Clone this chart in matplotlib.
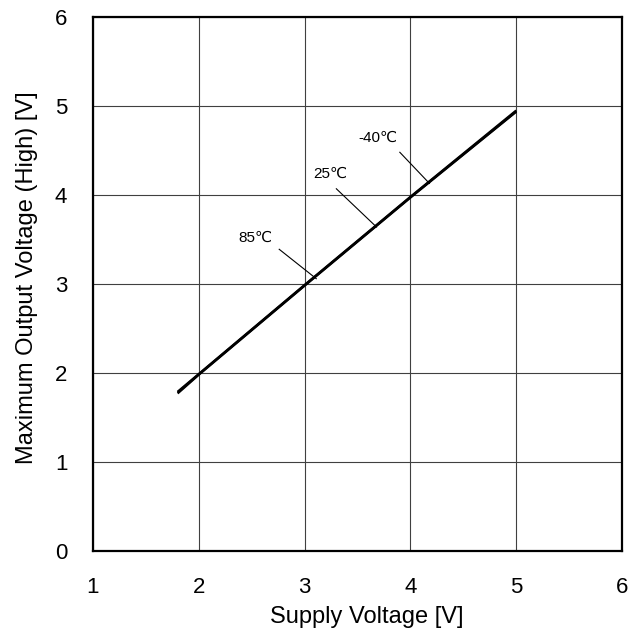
import matplotlib
matplotlib.use("Agg")
import matplotlib.pyplot as plt

plt.rcParams['font.family'] = ['Liberation Sans', 'DejaVu Sans']

vdd = [1.8, 2.0, 3.0, 4.0, 5.0]
vout_m40 = [1.79, 1.99, 2.99, 3.98, 4.95]
vout_25 = [1.78, 1.985, 2.985, 3.975, 4.94]
vout_85 = [1.77, 1.98, 2.98, 3.97, 4.935]

labels = ['-40\u2103', '25\u2103', '85\u2103']
label_xy = [(3.69, 4.64), (3.24, 4.24), (2.54, 3.52)]
leader_start = [(3.90, 4.48), (3.30, 4.07), (2.76, 3.39)]
leader_end = [(4.18, 4.13), (3.68, 3.64), (3.11, 3.06)]

fig = plt.figure(figsize=(6.39, 6.34), dpi=100)
ax = fig.add_axes([93/639, 1-551/634, 529/639, 534/634])

for v in (vout_m40, vout_25, vout_85):
    ax.plot(vdd, v, color='black', lw=1.6, solid_capstyle='butt')

for lab, (tx, ty), (sx, sy), (ex, ey) in zip(labels, label_xy, leader_start, leader_end):
    ax.plot([sx, ex], [sy, ey], color='black', lw=0.8)
    ax.text(tx, ty, lab, ha='center', va='center', fontsize=11)

ax.set_xlim(1, 6)
ax.set_ylim(0, 6)
ax.set_xticks([1, 2, 3, 4, 5, 6])
ax.set_yticks([0, 1, 2, 3, 4, 5, 6])
ax.grid(True, color='#404040', lw=0.8)
ax.set_axisbelow(True)
ax.tick_params(length=0, labelsize=16, pad=18.5)
for s in ax.spines.values():
    s.set_linewidth(1.6)
    s.set_color('black')
ax.set_xlabel('Supply Voltage [V]', fontsize=17)
ax.set_ylabel('Maximum Output Voltage (High) [V]', fontsize=17)
ax.xaxis.set_label_coords(0.518, -0.103)
ax.yaxis.set_label_coords(-0.104, 0.511)

fig.savefig('out.png', dpi=100)
